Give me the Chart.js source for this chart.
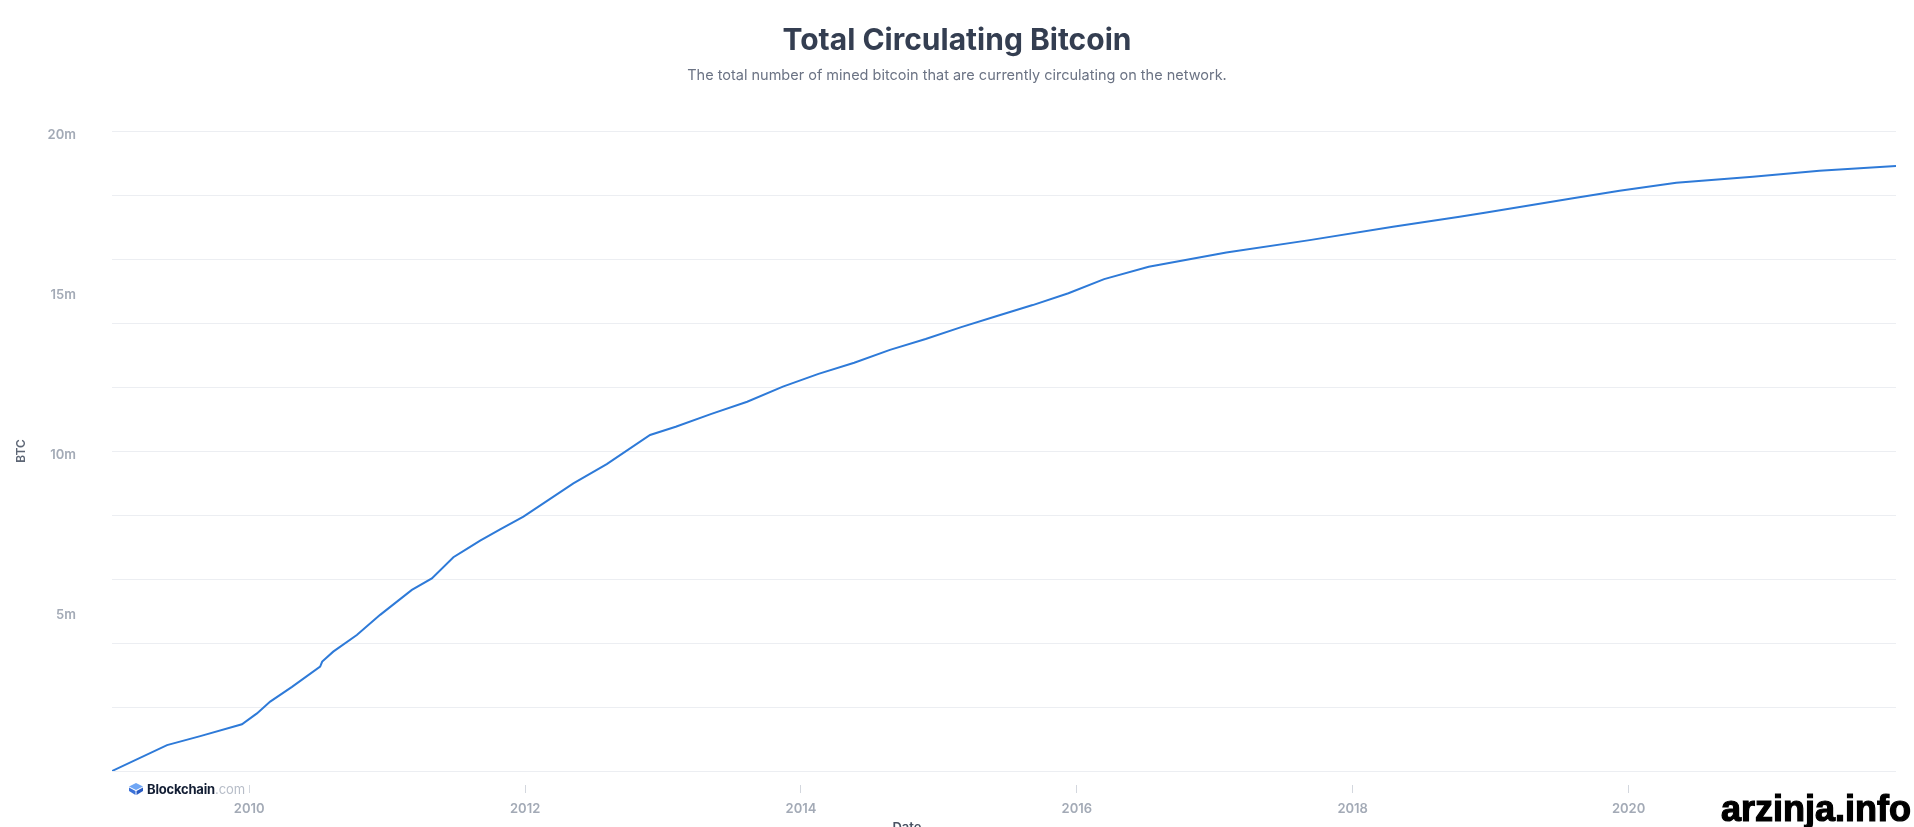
<!DOCTYPE html>
<html>
<head>
<meta charset="utf-8">
<script src="https://cdn.jsdelivr.net/npm/chart.js@4.4.1/dist/chart.umd.min.js"></script>
<style>
html,body{margin:0;padding:0;background:#fff;overflow:hidden;}
#wrap{position:relative;width:1914px;height:827px;}
#c{position:absolute;left:0;top:0;}
#logo{position:absolute;left:129px;top:781px;height:16px;display:flex;align-items:center;font-family:Inter,"Noto Sans",sans-serif;font-size:13px;white-space:nowrap;}
#logo svg{margin-right:4px;}
#logo .b{font-weight:700;color:#121d33;letter-spacing:-0.2px;}
#logo .d{color:#b7bdc8;}
#wm{position:absolute;left:1721px;top:791px;font-family:"Liberation Sans",Arial,sans-serif;font-weight:700;font-size:36px;line-height:36px;color:#000;-webkit-text-stroke:1.2px #000;white-space:nowrap;}
#date{position:absolute;left:880px;width:54px;text-align:center;top:819px;font-family:Inter,"Noto Sans",sans-serif;font-weight:600;font-size:13px;line-height:16px;color:#4a5363;}
</style>
</head>
<body>
<div id="wrap">
<canvas id="c" width="1914" height="827" style="width:1914px;height:827px;"></canvas>
<div id="logo"><svg width="14" height="12" viewBox="0 0 14 12"><polygon points="7,0 14,3.5 7,7 0,3.5" fill="#6fa6f5"/><polygon points="0,4.5 6.5,8 6.5,12 0,8" fill="#3c72d9"/><polygon points="14,4.5 7.5,8 7.5,12 14,8" fill="#2a5cc4"/></svg><span class="b">Blockchain</span><span class="d">.com</span></div>
<div id="date">Date</div>
<div id="wm">arzinja.info</div>
</div>
<script>
const years = [2009.005, 2009.404, 2009.645, 2009.947, 2010.056, 2010.152, 2010.310, 2010.514, 2010.529, 2010.609,
  2010.780, 2010.949, 2011.179, 2011.324, 2011.480, 2011.578, 2011.674, 2011.819, 2011.988, 2012.350,
  2012.592, 2012.906, 2013.092, 2013.351, 2013.610, 2013.869, 2014.127, 2014.386, 2014.645, 2014.904,
  2015.162, 2015.421, 2015.680, 2015.939, 2016.198, 2016.521, 2017.084, 2017.688, 2018.292, 2018.775,
  2018.969, 2019.597, 2019.935, 2020.346, 2020.901, 2021.384, 2021.939];
// Circulating supply in millions of BTC
const supplyMillions = [0, 0.81, 1.09, 1.46, 1.80, 2.17, 2.63, 3.26, 3.42, 3.73,
  4.25, 4.88, 5.66, 6.02, 6.68, 6.94, 7.20, 7.55, 7.95, 8.99,
  9.59, 10.50, 10.76, 11.16, 11.54, 12.01, 12.41, 12.76, 13.16, 13.50,
  13.87, 14.22, 14.56, 14.93, 15.37, 15.76, 16.20, 16.59, 17.01, 17.32,
  17.45, 17.90, 18.13, 18.38, 18.57, 18.76, 18.91];
const xTickYears = [2010, 2012, 2014, 2016, 2018, 2020];
const yLabelValues = [5, 10, 15, 20];
const titleText = 'Total Circulating Bitcoin';
const subtitleText = 'The total number of mined bitcoin that are currently circulating on the network.';

const points = years.map((y, i) => ({x: y, y: supplyMillions[i] * 1e6}));

new Chart(document.getElementById('c'), {
  type: 'line',
  data: {
    datasets: [{
      label: 'BTC',
      data: points,
      borderColor: '#2e7ad8',
      borderWidth: 2,
      pointRadius: 0,
      tension: 0,
      fill: false
    }]
  },
  options: {
    responsive: false,
    animation: false,
    devicePixelRatio: 1,
    layout: {padding: 0},
    plugins: {
      legend: {display: false},
      tooltip: {enabled: false},
      title: {
        display: true, text: titleText, color: '#343e51',
        font: {family: 'Inter', size: 30, weight: '700', lineHeight: 1.2},
        padding: {top: 23, bottom: 0}
      },
      subtitle: {
        display: true, text: subtitleText, color: '#6b7384',
        font: {family: 'Inter', size: 14.5, weight: '400', lineHeight: 1.2},
        padding: {top: 8, bottom: 46.6}
      }
    },
    scales: {
      x: {
        type: 'linear',
        min: years[0],
        max: years[years.length - 1],
        afterBuildTicks: s => { s.ticks = xTickYears.map(v => ({value: v})); },
        afterFit: s => { s.height = 56; },
        grid: {drawOnChartArea: false, drawTicks: true, tickLength: 22, tickBorderDash: [0, 14, 8, 100], tickColor: '#d3d7de', tickWidth: 1},
        border: {display: false},
        ticks: {
          autoSkip: false, maxRotation: 0, padding: 8,
          color: '#a3aab6',
          font: {family: 'Inter', size: 13, weight: '600'},
          callback: v => String(v)
        }
      },
      y: {
        min: 0,
        max: 20e6,
        afterFit: s => { s.width = 112; },
        title: {
          display: true, text: 'BTC', color: '#5d6675',
          font: {family: 'Inter', size: 12, weight: '600', lineHeight: 1.2},
          padding: {top: 14, bottom: 0}
        },
        border: {display: false},
        grid: {
          drawTicks: false,
          lineWidth: 1,
          color: ctx => (ctx.tick && Math.round(ctx.tick.value) % 2e6 === 0) ? '#eceef2' : 'rgba(0,0,0,0)'
        },
        ticks: {
          stepSize: 1e6, autoSkip: false, padding: 36, labelOffset: 4,
          color: '#a3aab6',
          font: {family: 'Inter', size: 13, weight: '600'},
          callback: v => yLabelValues.includes(Math.round(v / 1e6)) && v % 1e6 === 0 ? (v / 1e6) + 'm' : ''
        }
      },
      yr: {
        position: 'right',
        display: true,
        min: 0, max: 1,
        afterFit: s => { s.width = 18; },
        grid: {display: false},
        border: {display: false},
        ticks: {display: false}
      }
    }
  }
});
</script>
</body>
</html>
